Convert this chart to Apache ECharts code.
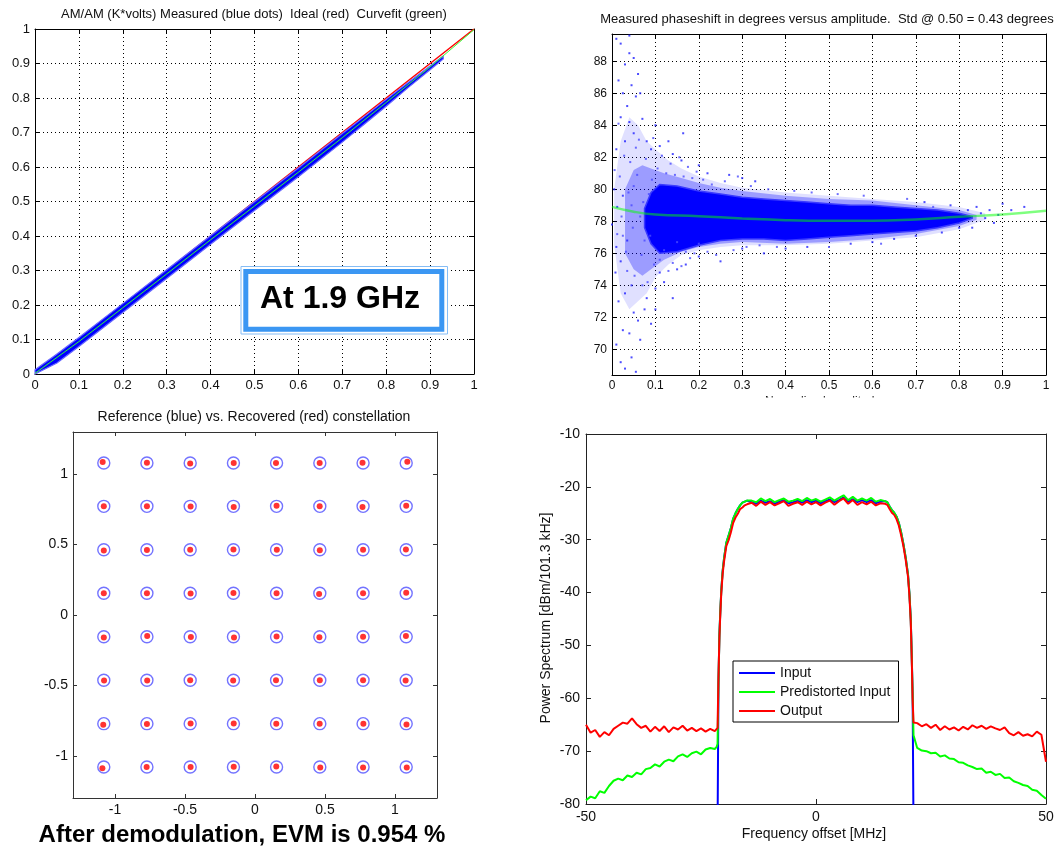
<!DOCTYPE html>
<html><head><meta charset="utf-8">
<script src="https://cdn.jsdelivr.net/npm/echarts@6/dist/echarts.min.js"></script>
<style>html,body{margin:0;padding:0;background:#fff}#c{width:1063px;height:847px}</style>
</head><body><div id="c"></div>
<script>
const FONT = '"Liberation Sans", Arial, Helvetica, sans-serif';

// ---------- Panel 1: AM/AM ----------
const idealX = [0, 1];
const idealY = [0, 1];
const amX    = [0.0, 0.05, 0.1, 0.2, 0.3, 0.4, 0.5, 0.6, 0.7, 0.75, 0.8, 0.85, 0.9, 0.93];
const amHigh = [0.012, 0.058, 0.106, 0.204, 0.302, 0.401, 0.499, 0.597, 0.697, 0.746, 0.796, 0.845, 0.893, 0.922];
const amLow  = [0.0, 0.032, 0.08, 0.178, 0.277, 0.376, 0.474, 0.572, 0.672, 0.724, 0.776, 0.83, 0.882, 0.913];
const amFitX = [0, 0.1, 0.2, 0.3, 0.4, 0.5, 0.6, 0.7, 0.8, 0.9, 1.0];
const amFitY = [0.002, 0.094, 0.192, 0.29, 0.389, 0.487, 0.585, 0.685, 0.787, 0.89, 0.998];

// ---------- Panel 2: AM/PM phase ----------
const haloX    = [0.005, 0.02, 0.04, 0.06, 0.08, 0.10, 0.13, 0.16, 0.20, 0.25, 0.30, 0.40, 0.50, 0.60, 0.70, 0.80, 0.86];
const haloHigh = [80.0, 83.0, 84.5, 84.0, 83.0, 82.5, 81.8, 81.3, 80.8, 80.4, 80.1, 79.8, 79.6, 79.4, 79.2, 78.9, 78.5];
const haloLow  = [76.5, 73.5, 72.5, 73.0, 73.5, 74.5, 75.3, 75.9, 76.2, 76.4, 76.5, 76.5, 76.6, 76.8, 77.0, 77.5, 78.1];
const midX     = [0.03, 0.05, 0.07, 0.09, 0.12, 0.16, 0.2, 0.25, 0.3, 0.4, 0.5, 0.6, 0.7, 0.8, 0.84];
const midHigh  = [80.0, 81.2, 81.5, 81.3, 81.0, 80.7, 80.4, 80.1, 79.9, 79.6, 79.4, 79.3, 79.0, 78.7, 78.4];
const midLow   = [76.0, 75.0, 74.6, 75.0, 75.6, 76.1, 76.4, 76.6, 76.7, 76.6, 76.7, 76.9, 77.2, 77.7, 78.1];
const coreX    = [0.075, 0.09, 0.11, 0.15, 0.20, 0.25, 0.30, 0.35, 0.40, 0.45, 0.50, 0.55, 0.60, 0.65, 0.70, 0.75, 0.80, 0.83];
const coreHigh = [78.8, 79.8, 80.3, 80.2, 79.9, 79.7, 79.5, 79.4, 79.3, 79.2, 79.1, 79.0, 79.0, 78.9, 78.8, 78.7, 78.5, 78.3];
const coreLow  = [77.6, 76.6, 76.0, 76.1, 76.5, 76.8, 76.9, 76.9, 76.8, 76.9, 77.0, 77.1, 77.2, 77.3, 77.4, 77.6, 77.9, 78.2];
const phaseDots = [
  [0.01,89.4],[0.02,89.1],[0.04,89.6],[0.04,88.5],[0.03,87.8],[0.05,88.2],[0.06,87.2],[0.015,86.8],
  [0.025,86.0],[0.045,86.5],[0.055,85.8],[0.035,85.2],[0.065,86.0],[0.02,84.5],[0.04,84.2],[0.05,83.5],
  [0.07,84.4],[0.08,83.0],[0.03,83.0],[0.01,82.5],[0.09,82.5],[0.1,84.0],[0.11,82.7],[0.13,83.0],
  [0.14,82.2],[0.16,81.8],[0.2,81.5],[0.22,81.0],[0.27,80.9],[0.3,80.7],[0.33,80.5],[0.164,83.5],
  [0.01,70.3],[0.02,69.2],[0.03,68.8],[0.045,69.5],[0.055,68.6],[0.065,70.6],[0.025,71.2],[0.04,71.0],
  [0.05,72.3],[0.06,71.8],[0.075,72.5],[0.015,73.0],[0.03,73.5],[0.045,74.0],[0.08,73.2],[0.09,71.6],
  [0.1,72.5],[0.1,73.8],[0.12,74.2],[0.11,74.8],[0.14,73.2],[0.15,75.0],[0.17,75.3],[0.2,75.8],
  [0.25,75.5],[0.3,76.3],[0.35,76.0],[0.4,76.3],[0.45,76.4],[0.55,76.6],[0.6,76.7],[0.65,76.9],
  [0.0,77.8],[0.005,80.0],[0.01,76.4],[0.02,75.5],[0.035,76.8],[0.012,78.9],[0.025,79.6],[0.008,74.8],
  [0.78,79.0],[0.82,78.7],[0.84,78.9],[0.86,78.2],[0.87,78.7],[0.88,77.9],[0.9,79.1],[0.92,78.7],
  [0.95,78.9],[0.83,77.6],[0.85,78.5],[0.8,77.6],[0.76,77.3],[0.7,77.1],[0.72,79.2],[0.89,78.4]
];
const phaseDotsLight = [
  [0.006,81.2],[0.012,77.2],[0.018,80.8],[0.022,78.3],[0.028,82.1],[0.032,76.1],[0.038,79.8],[0.042,81.7],
  [0.048,77.6],[0.052,74.6],[0.058,80.9],[0.062,83.1],[0.068,75.9],[0.072,79.2],[0.078,81.9],[0.082,74.2],
  [0.088,77.1],[0.092,80.6],[0.097,75.3],[0.015,84.1],[0.035,74.9],[0.055,82.6],[0.075,76.8],[0.095,83.2],
  [0.045,79.0],[0.065,78.3],[0.085,79.7],[0.025,77.1],[0.05,80.2],[0.07,74.0],
  [0.105,81.3],[0.11,75.6],[0.115,82.1],[0.12,76.2],[0.125,81.0],[0.13,74.9],[0.135,81.6],[0.14,75.4],
  [0.145,80.9],[0.15,76.7],[0.155,82.0],[0.16,75.2],[0.165,80.8],[0.17,76.1],[0.175,81.4],[0.18,75.7],
  [0.185,80.7],[0.19,76.0],[0.195,81.1],[0.2,76.6],
  [0.21,80.6],[0.22,76.1],[0.23,80.3],[0.24,75.9],[0.26,80.5],[0.28,76.2],[0.29,80.8],[0.31,76.4],
  [0.32,80.2],[0.34,76.5],[0.36,80.0],[0.38,76.4],[0.42,79.9],[0.46,79.8],[0.5,76.4],[0.52,79.7],
  [0.58,79.6],[0.62,76.6],[0.68,79.4],[0.74,78.9]
];
const phaseFitX = [0, 0.05, 0.1, 0.2, 0.3, 0.4, 0.5, 0.6, 0.7, 0.8, 0.9, 1.0];
const phaseFitY = [78.9, 78.6, 78.43, 78.32, 78.18, 78.07, 78.03, 78.03, 78.12, 78.28, 78.43, 78.66];
const phaseTicks = [70, 72, 74, 76, 78, 80, 82, 84, 86, 88];

// ---------- Panel 3: constellation ----------
const qamLevels = [-1.080, -0.772, -0.463, -0.154, 0.154, 0.463, 0.772, 1.080];
const constTicks = [-1, -0.5, 0, 0.5, 1];
const recovered = [
  [-1.088,1.086],[-0.772,1.082],[-0.463,1.076],[-0.152,1.080],[0.150,1.080],[0.462,1.080],[0.768,1.082],[1.088,1.088],
  [-1.080,0.772],[-0.772,0.772],[-0.460,0.770],[-0.152,0.768],[0.154,0.776],[0.462,0.772],[0.768,0.768],[1.080,0.776],
  [-1.080,0.458],[-0.772,0.462],[-0.463,0.463],[-0.154,0.465],[0.156,0.463],[0.463,0.460],[0.772,0.463],[1.078,0.466],
  [-1.080,0.154],[-0.772,0.154],[-0.460,0.152],[-0.154,0.156],[0.154,0.154],[0.458,0.150],[0.772,0.154],[1.080,0.158],
  [-1.080,-0.160],[-0.770,-0.150],[-0.458,-0.156],[-0.150,-0.160],[0.154,-0.152],[0.460,-0.158],[0.772,-0.154],[1.078,-0.150],
  [-1.078,-0.466],[-0.770,-0.466],[-0.463,-0.463],[-0.156,-0.466],[0.150,-0.463],[0.463,-0.463],[0.772,-0.463],[1.076,-0.466],
  [-1.084,-0.780],[-0.772,-0.774],[-0.460,-0.770],[-0.152,-0.770],[0.152,-0.772],[0.462,-0.772],[0.774,-0.772],[1.082,-0.778],
  [-1.090,-1.088],[-0.774,-1.080],[-0.460,-1.080],[-0.152,-1.078],[0.152,-1.076],[0.466,-1.084],[0.772,-1.084],[1.084,-1.084]
];

// ---------- Panel 4: spectrum ----------
const specFreq = [
  -50,-49,-48,-47,-46,-45,-44,-43,-42,-41,-40,-39,-38,-37,-36,-35,-34,-33,-32,-31,-30,-29,-28,-27,-26,-25,-24,-23,-22,
  -21.6,-21.4,-21.2,-21.0,-20.8,-20.6,-20.3,-20.0,-19.5,-19.0,-18.5,-18.0,-17.5,-17.0,-16.5,-16.0,-15.5,-15.0,
  -14,-13,-12,-11,-10,-9,-8,-7,-6,-5,-4,-3,-2,-1,0,1,2,3,4,5,6,7,8,9,10,11,12,13,14,
  15.0,15.5,16.0,16.5,17.0,17.5,18.0,18.5,19.0,19.5,20.0,20.3,20.6,20.8,21.0,21.2,
  22,23,24,25,26,27,28,29,30,31,32,33,34,35,36,37,38,39,40,41,42,43,44,45,46,47,48,49,50
];
const specOutput = [
  -65.0,-66.5,-66.0,-67.3,-66.4,-67.0,-65.8,-65.2,-64.6,-64.8,-63.8,-64.9,-65.6,-65.2,-66.3,-65.4,-66.2,-65.3,-66.4,-65.5,-65.9,-65.2,-66.1,-65.6,-66.2,-65.7,-66.3,-65.8,-66.2,
  -66.0,-65.6,-56.0,-48.5,-44.0,-40.2,-36.5,-34.2,-31.2,-30.1,-28.6,-26.8,-25.8,-25.1,-24.2,-23.9,-23.5,-23.3,
  -23.0,-23.6,-22.8,-23.4,-22.9,-23.5,-23.1,-22.7,-23.6,-23.2,-22.9,-23.4,-22.8,-23.3,-22.9,-23.5,-23.0,-22.6,-23.4,-22.7,-22.2,-23.2,-22.5,-23.4,-22.9,-23.3,-22.8,-23.5,-23.1,
  -23.2,-23.4,-24.2,-24.9,-25.3,-26.1,-27.3,-29.1,-31.2,-33.8,-37.0,-40.5,-45.5,-52.0,-60.0,-64.6,
  -64.7,-65.3,-64.9,-65.6,-65.0,-66.0,-65.3,-65.9,-65.5,-66.1,-65.4,-65.9,-65.1,-65.6,-65.2,-65.8,-65.3,-65.7,-66.0,-65.5,-66.6,-67.0,-66.4,-67.1,-66.8,-67.2,-66.3,-66.9,-72.0
];
const specPredist = [
  -79.3,-78.6,-78.9,-77.6,-77.9,-76.6,-75.6,-75.2,-75.5,-74.6,-74.9,-74.1,-74.4,-73.4,-73.2,-72.5,-72.9,-72.0,-71.6,-71.9,-71.0,-70.6,-71.1,-70.4,-70.1,-70.6,-69.7,-69.4,-69.6,
  -69.2,-68.6,-57.0,-48.0,-43.5,-39.8,-36.0,-33.6,-30.6,-29.2,-27.8,-26.0,-25.0,-24.2,-23.5,-23.0,-22.8,-22.6,
  -22.6,-22.9,-22.2,-22.7,-22.3,-22.9,-22.5,-22.2,-22.8,-22.6,-22.3,-22.7,-22.1,-22.6,-22.3,-22.8,-22.4,-22.0,-22.6,-22.1,-21.6,-22.5,-21.9,-22.6,-22.2,-22.6,-22.1,-22.8,-22.5,
  -22.7,-22.9,-23.7,-24.4,-24.9,-25.6,-26.8,-28.6,-30.8,-33.4,-36.6,-40.0,-45.0,-51.5,-59.0,-67.0,
  -69.4,-69.9,-70.0,-70.4,-70.3,-71.0,-70.8,-71.4,-71.5,-72.1,-72.2,-72.7,-73.0,-73.4,-73.3,-74.1,-73.9,-74.5,-74.3,-75.1,-75.0,-75.7,-76.0,-76.4,-76.6,-77.3,-77.5,-78.3,-79.0
];
const specInput = [
  null,null,null,null,null,null,null,null,null,null,null,null,null,null,null,null,null,null,null,null,null,null,null,null,null,null,null,null,null,
  null,-85,-57.0,-48.0,-43.5,-39.8,-36.0,-33.6,-30.6,-29.2,-27.8,-26.0,-25.0,-24.2,-23.5,-23.0,-22.8,-22.6,
  -22.9,-23.2,-22.6,-23.0,-22.7,-23.2,-22.8,-22.5,-23.1,-22.9,-22.6,-23.0,-22.5,-22.9,-22.6,-23.1,-22.7,-22.4,-22.9,-22.5,-22.0,-22.8,-22.3,-22.9,-22.5,-22.9,-22.5,-23.1,-22.8,
  -22.7,-22.9,-23.7,-24.4,-24.9,-25.6,-26.8,-28.6,-30.8,-33.4,-36.6,-40.0,-45.0,-51.5,-59.0,-85,
  null,null,null,null,null,null,null,null,null,null,null,null,null,null,null,null,null,null,null,null,null,null,null,null,null,null,null,null,null
];
const specNames = ['Input', 'Predistorted Input', 'Output'];

// ---------- helpers ----------
const zip = (xs, ys) => xs.map((x, i) => [x, ys[i]]);
function band(xs, hi, lo, style) {
  return function (params, api) {
    if (params.dataIndex !== 0) return;
    const pts = [];
    for (let i = 0; i < xs.length; i++) pts.push(api.coord([xs[i], hi[i]]));
    for (let i = xs.length - 1; i >= 0; i--) pts.push(api.coord([xs[i], lo[i]]));
    return { type: 'polygon', shape: { points: pts }, style: style };
  };
}
function axis(gridIndex, position, min, max, o) {
  const main = position === 'bottom' || position === 'left';
  const lc = o.lineColor || '#000';
  const a = {
    type: 'value', gridIndex: gridIndex, position: position, min: min, max: max,
    axisLine: { show: true, onZero: false, lineStyle: { color: lc, width: 1 } },
    axisTick: { show: true, inside: true, length: o.tickLen || 5, lineStyle: { color: lc } },
    axisLabel: { show: main, fontSize: o.fontSize, color: '#111', fontFamily: FONT, margin: o.margin || 5,
                 showMinLabel: true, showMaxLabel: true },
    splitLine: { show: main && !!o.grid, lineStyle: { color: '#000', type: [1, 3], width: 1 } }
  };
  if (o.interval) a.interval = o.interval;
  if (o.ticks) { a.axisTick.customValues = o.ticks; a.axisLabel.customValues = o.ticks; }
  return a;
}
function txt(text, x, y, size, extra) {
  return Object.assign({
    type: 'text', x: x, y: y, silent: true, z: 100,
    style: Object.assign({ text: text, x: 0, y: 0, fill: '#111', font: size + 'px ' + FONT,
      fontSize: size, fontFamily: FONT, textAlign: 'center', align: 'center',
      textVerticalAlign: 'middle', verticalAlign: 'middle' }, (extra && extra.style) || {})
  }, extra ? { rotation: extra.rotation || 0 } : {});
}

const refPoints = [];
for (const y of qamLevels.slice().reverse()) for (const x of qamLevels) refPoints.push([x, y]);

const p1 = { fontSize: 13, grid: true, interval: 0.1 };
const p2x = { fontSize: 12, grid: true, interval: 0.1 };
const p2y = { fontSize: 12, grid: true, ticks: phaseTicks };
const p3 = { fontSize: 14, ticks: constTicks, lineColor: '#333', tickLen: 4 };
const p4x = { fontSize: 14, interval: 50, lineColor: '#222', tickLen: 5, margin: 6 };
const p4y = { fontSize: 14, interval: 10, lineColor: '#222', tickLen: 5, margin: 6 };

const option = {
  animation: false,
  backgroundColor: '#fff',
  textStyle: { fontFamily: FONT },
  grid: [
    { left: 35, top: 29, width: 439, height: 345 },
    { left: 612, top: 34, width: 434, height: 341 },
    { left: 73, top: 432, width: 364, height: 366 },
    { left: 586, top: 434, width: 460, height: 370 }
  ],
  xAxis: [
    axis(0, 'bottom', 0, 1, p1), axis(0, 'top', 0, 1, p1),
    axis(1, 'bottom', 0, 1, p2x), axis(1, 'top', 0, 1, p2x),
    axis(2, 'bottom', -1.3, 1.3, p3), axis(2, 'top', -1.3, 1.3, p3),
    axis(3, 'bottom', -50, 50, p4x), axis(3, 'top', -50, 50, p4x)
  ],
  yAxis: [
    axis(0, 'left', 0, 1, p1), axis(0, 'right', 0, 1, p1),
    axis(1, 'left', 68.4, 89.7, p2y), axis(1, 'right', 68.4, 89.7, p2y),
    axis(2, 'left', -1.3, 1.3, p3), axis(2, 'right', -1.3, 1.3, p3),
    axis(3, 'left', -80, -10, p4y), axis(3, 'right', -80, -10, p4y)
  ],
  legend: {
    data: specNames, orient: 'vertical', left: 733, top: 661,
    itemWidth: 36, itemHeight: 2, icon: 'rect', itemGap: 5,
    textStyle: { fontSize: 14, color: '#111', fontFamily: FONT },
    borderColor: '#000', borderWidth: 1, borderRadius: 0, padding: [5, 8, 4, 6],
    backgroundColor: '#fff', selectedMode: false
  },
  series: [
    // Panel 1
    { name: 'Ideal', type: 'line', xAxisIndex: 0, yAxisIndex: 0, data: zip(idealX, idealY),
      symbol: 'none', lineStyle: { color: '#ff0000', width: 1.5 }, z: 2, silent: true },
    { name: 'Measured', type: 'custom', xAxisIndex: 0, yAxisIndex: 0, data: [[amX[0], amHigh[0]]], silent: true, z: 3,
      renderItem: band(amX, amHigh, amLow, { fill: '#0000ff', stroke: '#6a6aff', lineWidth: 1.2 }) },
    { name: 'Curvefit', type: 'line', xAxisIndex: 0, yAxisIndex: 0, data: zip(amFitX, amFitY),
      symbol: 'none', lineStyle: { color: '#33ff33', width: 1 }, z: 4, silent: true },
    // Panel 2
    { name: 'PhaseHalo', type: 'custom', xAxisIndex: 2, yAxisIndex: 2, data: [[haloX[0], haloHigh[0]]], silent: true, z: 2,
      renderItem: band(haloX, haloHigh, haloLow, { fill: 'rgba(0,0,255,0.12)' }) },
    { name: 'PhaseMid', type: 'custom', xAxisIndex: 2, yAxisIndex: 2, data: [[midX[0], midHigh[0]]], silent: true, z: 2,
      renderItem: band(midX, midHigh, midLow, { fill: 'rgba(0,0,255,0.3)' }) },
    { name: 'PhaseDotsLight', type: 'scatter', xAxisIndex: 2, yAxisIndex: 2, data: phaseDotsLight, silent: true, z: 3,
      symbol: 'rect', symbolSize: 2, itemStyle: { color: '#4a4aff' } },
    { name: 'PhaseDots', type: 'scatter', xAxisIndex: 2, yAxisIndex: 2, data: phaseDots, silent: true, z: 3,
      symbol: 'rect', symbolSize: 2, itemStyle: { color: '#2020ff' } },
    { name: 'PhaseCore', type: 'custom', xAxisIndex: 2, yAxisIndex: 2, data: [[coreX[0], coreHigh[0]]], silent: true, z: 3,
      renderItem: band(coreX, coreHigh, coreLow, { fill: '#0000ff', stroke: '#3a3aff', lineWidth: 1.5 }) },
    { name: 'PhaseFit', type: 'line', xAxisIndex: 2, yAxisIndex: 2, data: zip(phaseFitX, phaseFitY), smooth: true,
      symbol: 'none', lineStyle: { color: '#00ff00', width: 2.5, opacity: 0.5 }, z: 5, silent: true },
    // Panel 3
    { name: 'Reference', type: 'scatter', xAxisIndex: 4, yAxisIndex: 4, data: refPoints, silent: true, z: 2,
      symbol: 'circle', symbolSize: 12, itemStyle: { color: 'rgba(0,0,0,0)', borderColor: '#5050ff', borderWidth: 1.4 } },
    { name: 'Recovered', type: 'scatter', xAxisIndex: 4, yAxisIndex: 4, data: recovered, silent: true, z: 3,
      symbol: 'circle', symbolSize: 6, itemStyle: { color: '#ff0000' } },
    // Panel 4
    { name: 'Input', type: 'line', xAxisIndex: 6, yAxisIndex: 6, data: zip(specFreq, specInput), clip: true,
      symbol: 'none', color: '#0000ff', lineStyle: { color: '#0000ff', width: 2 }, z: 2, silent: true },
    { name: 'Predistorted Input', type: 'line', xAxisIndex: 6, yAxisIndex: 6, data: zip(specFreq, specPredist), clip: true,
      symbol: 'none', color: '#00ff00', lineStyle: { color: '#00ff00', width: 2 }, z: 3, silent: true },
    { name: 'Output', type: 'line', xAxisIndex: 6, yAxisIndex: 6, data: zip(specFreq, specOutput), clip: true,
      symbol: 'none', color: '#ff0000', lineStyle: { color: '#ff0000', width: 2 }, z: 4, silent: true }
  ],
  graphic: [
    txt('AM/AM (K*volts) Measured (blue dots)  Ideal (red)  Curvefit (green)', 254, 14, 13),
    txt('Measured phaseshift in degrees versus amplitude.  Std @ 0.50 = 0.43 degrees', 827, 19.5, 13),
    txt('Normalized amplitude', 823, 402, 12),
    { type: 'rect', z: 101, silent: true, shape: { x: 700, y: 397.5, width: 250, height: 14 }, style: { fill: '#fff' } },
    txt('Reference (blue) vs. Recovered (red) constellation', 254, 417, 14),
    txt('After demodulation, EVM is 0.954 %', 242, 835, 24, { style: { fill: '#000', font: 'bold 24px ' + FONT, fontWeight: 'bold' } }),
    txt('Frequency offset [MHz]', 814, 834, 14),
    txt('Power Spectrum [dBm/101.3 kHz]', 546, 618, 14, { rotation: Math.PI / 2 }),
    { type: 'rect', z: 90, silent: true, shape: { x: 241, y: 266.5, width: 206.5, height: 67.5 },
      style: { fill: '#fff', stroke: '#86bdf5', lineWidth: 1 } },
    { type: 'rect', z: 91, silent: true, shape: { x: 245.8, y: 271.5, width: 196, height: 57.7 },
      style: { fill: '#fff', stroke: '#3b97f3', lineWidth: 5 } },
    txt('At 1.9 GHz', 340, 299, 32, { style: { fill: '#000', font: 'bold 32px ' + FONT, fontWeight: 'bold' } })
  ]
};

const chart = echarts.init(document.getElementById('c'), null, { renderer: 'canvas', width: 1063, height: 847 });
chart.setOption(option);
</script></body></html>
